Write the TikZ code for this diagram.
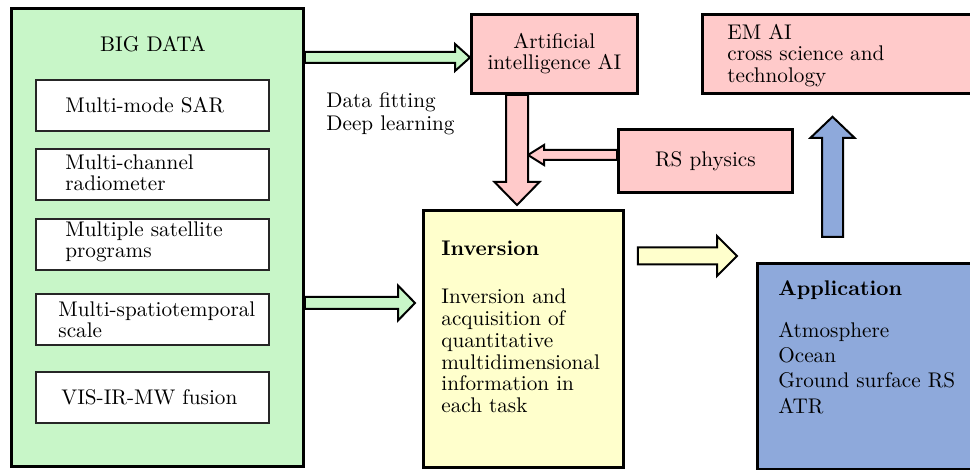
\documentclass[tikz,border=0pt]{standalone}
\usetikzlibrary{calc}

\definecolor{datagreen}{RGB}{200,246,200}
\definecolor{aipink}{RGB}{255,202,202}
\definecolor{invyellow}{RGB}{255,255,204}
\definecolor{appblue}{RGB}{142,169,219}

% block arrow: [style]{tail}{tip}{shaft half width}{head half width}{head length}
\newcommand\blockarrow[6][]{%
  \path (#2) coordinate (ba-tail) (#3) coordinate (ba-tip);
  \path ($(ba-tip)!#6!(ba-tail)$) coordinate (ba-neck);
  \draw[line width=1pt, #1]
    ($(ba-tail)!#4!90:(ba-tip)$) -- ($(ba-neck)!#4!90:(ba-tip)$) -- ($(ba-neck)!#5!90:(ba-tip)$) -- (ba-tip)
    -- ($(ba-neck)!#5!-90:(ba-tip)$) -- ($(ba-neck)!#4!-90:(ba-tip)$) -- ($(ba-tail)!#4!-90:(ba-tip)$) -- cycle;}

\begin{document}
\begin{tikzpicture}[x=0.5pt, y=-0.5pt,
    every node/.style={font=\fontsize{10.6}{10.6}\selectfont, inner sep=0pt},
    panel/.style={draw=black, line width=1.4pt, anchor=north west},
    source/.style={draw=black!85, line width=1pt, fill=white, minimum width=116.5pt, minimum height=25.5pt},
    txt/.style={anchor=west, align=left},
    title/.style={anchor=west, font=\fontsize{10.6}{12}\selectfont\bfseries}
  ]
    \path[use as bounding box, clip] (0,0) rectangle (970,470);

    % big data column
    \node[panel, fill=datagreen, minimum width=146pt, minimum height=229pt] (bigdata) at (10,7) {};
    \node (bdtitle) at (153,44) {BIG DATA};
    \node[source] (sar) at (152.5,105.5) {};
    \node[source] (radio) at (152.5,174.5) {};
    \node[source] (sat) at (152.5,244.5) {};
    \node[source] (scale) at (152.5,319.5) {};
    \node[source] (fusion) at (152.5,397.5) {};
    \node[txt] (sar-l) at ([xshift=15pt]sar.west) {Multi-mode SAR};
    \node[txt] (radio-l) at ([xshift=15pt,yshift=1pt]radio.west) {Multi-channel\\radiometer};
    \node[txt] (sat-l) at ([xshift=15pt,yshift=1.5pt]sat.west) {Multiple satellite\\programs};
    \node[txt] (scale-l) at ([xshift=11.5pt]scale.west) {Multi-spatiotemporal\\scale};
    \node[txt] (fusion-l) at ([xshift=13pt]fusion.west) {VIS-IR-MW fusion};

    % AI and physics
    \node[panel, fill=aipink, minimum width=83pt, minimum height=39.5pt, align=center] (ai) at (470,13) {Artificial\\intelligence AI};
    \node[panel, fill=aipink, minimum width=150pt, minimum height=39.5pt] (emai) at (701,13) {};
    \node[txt] (emai-l) at ([xshift=13pt,yshift=-0.75pt]emai.west) {EM AI\\cross science and\\technology};
    \node[panel, fill=aipink, minimum width=87pt, minimum height=31.5pt] (rs) at (617,128) {RS physics};
    \node[txt, font=\fontsize{10.6}{11.5}\selectfont] (fit) at (326,114) {Data fitting\\Deep learning};

    % inversion and application
    \node[panel, fill=invyellow, minimum width=100pt, minimum height=128.5pt] (inv) at (422,209) {};
    \node[title] (inv-t) at (441,248) {Inversion};
    \node[txt, font=\fontsize{10.6}{10.9}\selectfont] (inv-l) at (441,351) {Inversion and\\acquisition of\\quantitative\\multidimensional\\information in\\each task};
    \node[panel, fill=appblue, minimum width=120pt, minimum height=103pt] (app) at (756,262) {};
    \node[title] (app-t) at (778,290) {Application};
    \node[txt, font=\fontsize{10.6}{12.6}\selectfont] (app-l) at (778,368) {Atmosphere\\Ocean\\Ground surface RS\\ATR};

    % block arrows
    \coordinate (merge) at (528,155);
    \blockarrow[fill=datagreen]{bigdata.east |- 0,57.5}{ai.west |- 0,57.5}{2.75pt}{6.75pt}{7.5pt}
    \blockarrow[fill=datagreen]{bigdata.east |- 0,303}{[xshift=-3.5pt]inv.west |- 0,303}{3pt}{8.75pt}{8.5pt}
    \blockarrow[fill=aipink]{rs.west |- merge}{merge}{2.5pt}{5pt}{8pt}
    \blockarrow[fill=aipink]{ai.south -| 517,0}{[yshift=2pt]inv.north -| 517,0}{5.5pt}{11.25pt}{11.5pt}
    \blockarrow[fill=invyellow]{[xshift=6.5pt]inv.east |- 0,256}{[xshift=-9.5pt]app.west |- 0,256}{4.25pt}{10pt}{10pt}
    \blockarrow[fill=appblue]{[yshift=12.5pt]app.north -| 832.5,0}{[yshift=-11pt]emai.south -| 832.5,0}{5.25pt}{11pt}{10.5pt}
\end{tikzpicture}
\end{document}
